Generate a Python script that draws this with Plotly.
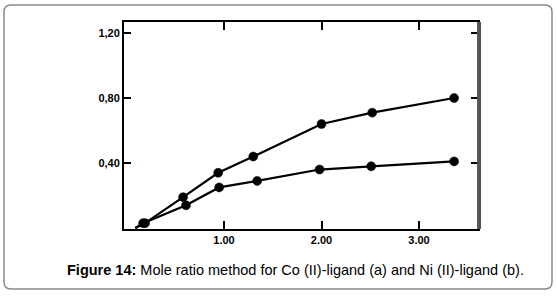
import plotly.graph_objects as go

# Data (mole ratio vs absorbance)
co_x = [0.09, 0.19, 0.58, 0.94, 1.30, 2.00, 2.52, 3.36]
co_y = [0.00, 0.03, 0.19, 0.34, 0.44, 0.64, 0.71, 0.80]
ni_x = [0.09, 0.17, 0.61, 0.95, 1.34, 1.98, 2.51, 3.36]
ni_y = [0.00, 0.03, 0.14, 0.25, 0.29, 0.36, 0.38, 0.41]

x_tickvals = [1.0, 2.0, 3.0]
x_ticktext = ["1.00", "2.00", "3.00"]
y_tickvals = [0.4, 0.8, 1.2]
y_ticktext = ["0,40", "0,80", "1,20"]

caption = "<b>Figure 14:</b> Mole ratio method for Co (II)-ligand (a) and Ni (II)-ligand (b)."

fig = go.Figure()
for xs, ys, name in [(co_x, co_y, "Co (II)-ligand (a)"), (ni_x, ni_y, "Ni (II)-ligand (b)")]:
    sizes = [0] + [9] * (len(xs) - 1)
    fig.add_trace(go.Scatter(
        x=xs, y=ys, mode="lines+markers", name=name,
        line=dict(color="black", width=2.2),
        marker=dict(color="#000000", size=sizes, opacity=1, line=dict(color="#000000", width=0.5)),
        showlegend=False,
    ))

W, H = 557, 296
L, R, T, B = 124, 478, 22, 229
pw, ph = R - L, B - T

def px(xp):
    return (xp - L) / pw

def py(yp):
    return (B - yp) / ph

# rounded frame around the figure
x0, x1, y0, y1 = px(4), px(552), py(289), py(5)
rx, ry = 7 / pw, 7 / ph
path = (f"M {x0+rx},{y1} L {x1-rx},{y1} Q {x1},{y1} {x1},{y1-ry} "
        f"L {x1},{y0+ry} Q {x1},{y0} {x1-rx},{y0} L {x0+rx},{y0} "
        f"Q {x0},{y0} {x0},{y0+ry} L {x0},{y1-ry} Q {x0},{y1} {x0+rx},{y1} Z")

tick_font = dict(size=11, family="Liberation Sans Narrow, Liberation Sans, Arial",
                 color="#000", weight="bold")

fig.update_layout(
    width=W, height=H,
    margin=dict(l=L, r=W - R, t=T, b=H - B),
    paper_bgcolor="white", plot_bgcolor="white",
    font=dict(family="Liberation Sans, Arial, sans-serif", color="#111"),
    xaxis=dict(
        range=[-0.026, 3.605], tickvals=x_tickvals, ticktext=x_ticktext,
        ticks="inside", ticklen=8, tickwidth=1.5, tickcolor="black",
        showline=True, linecolor="black", linewidth=2, mirror="ticks",
        showgrid=False, zeroline=False, tickfont=tick_font,
    ),
    yaxis=dict(
        range=[-0.006, 1.268], tickvals=y_tickvals, ticktext=y_ticktext,
        ticks="inside", ticklen=7, tickwidth=1.5, tickcolor="black",
        showline=True, linecolor="black", linewidth=2, mirror="ticks",
        showgrid=False, zeroline=False, tickfont=tick_font,
    ),
    shapes=[
        dict(type="path", path=path, xref="paper", yref="paper",
             line=dict(color="#8a8a8a", width=1.5), fillcolor="rgba(0,0,0,0)", layer="below"),
        dict(type="line", xref="paper", yref="paper", x0=1.003, x1=1.003, y0=0, y1=1,
             line=dict(color="#555", width=4)),
    ],
    annotations=[
        dict(text=caption, xref="paper", yref="paper", x=px(295), y=py(270),
             xanchor="center", yanchor="middle", showarrow=False,
             font=dict(size=14.5, family="Liberation Sans, Arial, sans-serif", color="black")),
    ],
)

fig.write_html("out.html", config={"displayModeBar": False},
               post_script="document.body.style.margin='0';")
